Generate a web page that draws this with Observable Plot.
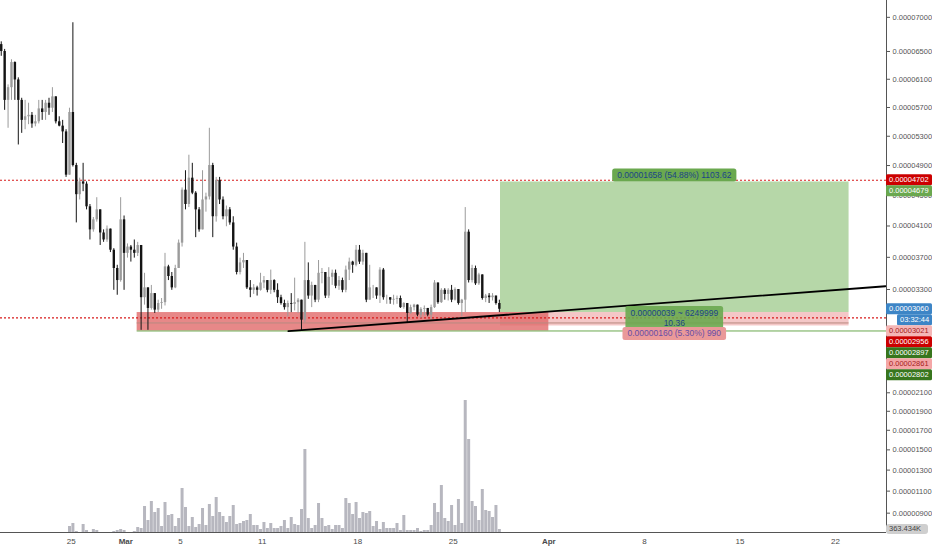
<!DOCTYPE html>
<html>
<head>
<meta charset="utf-8">
<script src="https://cdn.jsdelivr.net/npm/d3@7"></script>
<script src="https://cdn.jsdelivr.net/npm/@observablehq/plot@0.6"></script>
<style>
  html, body { margin: 0; padding: 0; background: #fff; }
  #chart { position: relative; width: 932px; height: 550px; overflow: hidden; font-family: "Liberation Sans", Arial, sans-serif; }
  #chart svg { position: absolute; left: 0; top: 0; background: none !important; }
  #chart svg.volume { pointer-events: none; }
</style>
</head>
<body>
<div id="chart"></div>
<script>
// 6h candles, first one opens Feb 19 18:00 UTC; prices in satoshi (1e-8)
const candleStart = Date.UTC(2018, 1, 19, 18);
const firstOpen = 6600;

const closes = [
  6500, 5800, 5980, 6340, 6090, 5800, 5520, 5570, 5590, 5470,
  5500, 5680, 5630, 5760, 5690, 5850, 5500, 5440, 5360, 4770,
  5630, 4900, 4510, 4680, 4650, 4350, 4050, 4180, 4310, 4010,
  3920, 4060, 3790, 3560, 3410, 4180, 3750, 3830, 3790, 3750,
  3850, 3200, 3320, 3070, 3250, 3050, 3130, 3140, 3580, 3460,
  3320, 3560, 3880, 4570, 4380, 4730, 4530, 4310, 4050, 4440,
  4480, 4900, 4220, 4700, 4440, 4220, 4310, 4140, 3830, 3510,
  3630, 3660, 3320, 3290, 3320, 3290, 3380, 3410, 3290, 3410,
  3290, 3200, 3130, 3080, 3130, 3120, 3140, 3170, 2930, 3410,
  3220, 3350, 3170, 3500, 3510, 3220, 3450, 3500, 3340, 3410,
  3290, 3540, 3640, 3600, 3790, 3640, 3750, 3170, 3320, 3320,
  3220, 3540, 3200, 3200, 3170, 3180, 3190, 3080, 3130, 3010,
  3080, 3110, 2990, 3060, 3070, 2990, 3080, 3380, 3140, 3290,
  3240, 3290, 3170, 3300, 3130, 3170, 4020, 3410, 3560, 3370,
  3480, 3190, 3220, 3200, 3220, 3130, 3060
];
const highs = [
  6640, 6530, 6020, 6380, 6350, 6120, 5830, 5800, 5760, 5630,
  5590, 5800, 5800, 5800, 5830, 5980, 5850, 5570, 5520, 5390,
  5690, 6920, 4930, 4730, 4930, 4680, 4380, 4210, 4470, 4310,
  4050, 4100, 4060, 3810, 3600, 4470, 4230, 3870, 3850, 3920,
  3890, 3850, 3500, 3320, 3350, 3250, 3170, 3190, 3750, 3600,
  3510, 3600, 3920, 4600, 4830, 5040, 4930, 4550, 4340, 4830,
  4530, 5410, 4930, 4740, 4740, 4480, 4360, 4340, 4220, 3880,
  3690, 3750, 3640, 3410, 3360, 3340, 3500, 3460, 3410, 3540,
  3420, 3370, 3230, 3170, 3160, 3250, 3440, 3190, 3110, 3890,
  3630, 3390, 3350, 3660, 3560, 3510, 3570, 3540, 3540, 3460,
  3440, 3590, 3690, 3650, 3850, 3850, 3790, 3750, 3600, 3350,
  3310, 3570, 3560, 3230, 3200, 3230, 3220, 3220, 3140, 3130,
  3110, 3120, 3110, 3080, 3100, 3070, 3110, 3410, 3360, 3310,
  3310, 3310, 3350, 3320, 3300, 3180, 4340, 4050, 3600, 3590,
  3500, 3480, 3240, 3250, 3250, 3220, 3170
];
const lows = [
  6430, 5660, 5410, 5800, 5800, 5180, 5340, 5390, 5460, 5410,
  5430, 5470, 5520, 5520, 5590, 5630, 5470, 5430, 5200, 4740,
  4770, 4880, 4140, 4440, 4550, 4310, 3920, 4020, 4150, 3850,
  3890, 3890, 3760, 3290, 3230, 3390, 3290, 3690, 3640, 3690,
  3710, 2810, 3110, 2810, 3050, 3010, 3020, 3060, 3100, 3410,
  3290, 3310, 3560, 3830, 4310, 4340, 4510, 3950, 4020, 4050,
  4280, 4440, 3950, 4150, 4380, 4180, 4090, 4110, 3790, 3480,
  3480, 3560, 3300, 3200, 3240, 3220, 3280, 3310, 3260, 3240,
  3260, 3130, 3110, 3050, 2970, 3020, 3040, 3010, 2800, 2900,
  3180, 3080, 3140, 3140, 3370, 3190, 3190, 3350, 3310, 3290,
  3260, 3260, 3410, 3500, 3580, 3610, 3600, 3140, 3170, 3190,
  3180, 3130, 3170, 3120, 3120, 3110, 3120, 3070, 3060, 2900,
  3000, 3040, 2970, 2950, 2980, 2970, 2940, 3070, 3120, 3130,
  3170, 3160, 3140, 3160, 3110, 2970, 3020, 3380, 3380, 3350,
  3350, 3170, 3140, 3130, 3160, 3110, 3020
];
// volume, thousands
const volumes = [
  0, 0, 0, 0, 0, 0, 0, 0, 0, 0,
  0, 0, 0, 0, 0, 0, 0, 0, 0, 0,
  720, 1080, 120, 0, 960, 240, 0, 360, 240, 0,
  0, 0, 0, 120, 240, 360, 240, 0, 0, 120,
  600, 480, 3120, 1440, 3720, 2400, 2880, 720, 3600, 2040,
  2160, 720, 1680, 5280, 3000, 720, 1800, 600, 960, 2880,
  840, 3360, 1920, 4200, 2400, 1920, 1200, 1920, 3240, 960,
  1080, 1320, 1440, 2160, 840, 840, 360, 1200, 480, 1080,
  480, 480, 720, 1440, 480, 1800, 960, 840, 2760, 9960,
  1680, 480, 840, 3480, 1680, 720, 840, 360, 840, 840,
  480, 4080, 3480, 2160, 3600, 1680, 2400, 2280, 2520, 720,
  1320, 360, 1200, 480, 480, 480, 1080, 240, 2040, 240,
  240, 240, 480, 120, 240, 240, 840, 3480, 2400, 5640,
  1680, 1320, 3240, 840, 3960, 1080, 15840, 11160, 3720, 3120,
  1440, 5160, 2640, 2520, 1800, 3240, 363.434
];

const priceTicks = [7000, 6500, 6100, 5700, 5300, 4900, 4500, 4100, 3700, 3300, 2100, 1900, 1700, 1500, 1300, 1100, 900];
const dateTicks = ["2018-02-25", "2018-03-01", "2018-03-05", "2018-03-11", "2018-03-18", "2018-03-25", "2018-04-01", "2018-04-08", "2018-04-15", "2018-04-22"];
const dateTickLabels = ["25", "Mar", "5", "11", "18", "25", "Apr", "8", "15", "22"];

// drawings
const resistance = 4702;
const support = 2956;
const zone = {x1: "2018-03-01T20:00Z", x2: "2018-04-01T00:00Z", y1: 2802, y2: 3021};
const position = {x1: "2018-03-28T11:00Z", x2: "2018-04-23T00:00Z", entry: 3021, target: 4679, stop: 2861};
const countdown = "03:32:44";
const trend = [{date: "2018-03-12T22:00Z", price: 2800}, {date: "2018-04-25T16:00Z", price: 3340}];
const levelLines = [
  {price: 2897, x1: "2018-03-01T20:00Z", x2: "2018-04-23T00:00Z", color: "#b88a80"},
  {price: 2802, x1: "2018-03-01T20:00Z", x2: "2018-04-25T17:50Z", color: "#6aa84f"}
];
const axisTags = [
  {price: 4702, bg: "#cc0000", fg: "#fff"},
  {price: 4679, bg: "#6aa84f", fg: "#fff"},
  {price: 3060, bg: "#3d85c6", fg: "#fff"},
  {price: 3060, bg: "#3d85c6", fg: "#fff", text: countdown, short: true},
  {price: 3021, bg: "#f4b6b6", fg: "#a61c1c"},
  {price: 2956, bg: "#cc0000", fg: "#fff"},
  {price: 2897, bg: "#38761d", fg: "#fff"},
  {price: 2861, bg: "#f4a6a6", fg: "#a61c1c"},
  {price: 2802, bg: "#38761d", fg: "#fff"}
];

const H6 = 6 * 3600e3;
const candles = closes.map((c, i) => {
  const o = i ? closes[i - 1] : firstOpen;
  return {
    date: new Date(candleStart + i * H6 + H6 / 2),
    open: o, close: c,
    high: Math.max(highs[i], o, c),
    low: Math.min(lows[i], o, c),
    volume: volumes[i]
  };
});
const candleColor = d => d.close >= d.open ? "#9b9b9b" : "#141414";
const fmtPrice = v => (v / 1e8).toFixed(8);
const xDomain = [new Date(Date.UTC(2018, 1, 19, 19, 42)), new Date(Date.UTC(2018, 3, 25, 17, 50))];
const yDomain = [733, 7250];
const tickDates = dateTicks.map(s => new Date(s + "T00:00Z"));
const tickLabel = d => dateTickLabels[tickDates.findIndex(t => +t === +d)];

const box = (x1, x2, y1, y2) => [{x1: new Date(x1), x2: new Date(x2), y1, y2}];
const layout = {width: 932, height: 550, marginLeft: 0, marginRight: 46, marginTop: 0, marginBottom: 18};

const chart = Plot.plot({
  ...layout,
  style: {fontFamily: '"Liberation Sans", Arial, sans-serif', fontSize: "7.5px", background: "transparent"},
  x: {type: "utc", domain: xDomain},
  y: {type: "pow", exponent: 0.75, domain: yDomain},
  color: {type: "identity"},
  marks: [
    Plot.rect(box(position.x1, position.x2, position.entry, position.target), {x1: "x1", x2: "x2", y1: "y1", y2: "y2", fill: "#b6d7a8"}),
    Plot.rect(box(position.x1, position.x2, position.stop, position.entry), {x1: "x1", x2: "x2", y1: "y1", y2: "y2", fill: "#f4c7c7"}),
    Plot.rect(box(zone.x1, zone.x2, zone.y1, zone.y2), {x1: "x1", x2: "x2", y1: "y1", y2: "y2", fill: "#e06666", fillOpacity: 0.78}),
    Plot.ruleY(levelLines, {y: "price", x1: d => new Date(d.x1), x2: d => new Date(d.x2), stroke: "color", strokeWidth: 1}),
    Plot.ruleY([resistance, support], {stroke: "#d81b1b", strokeWidth: 1.2, strokeDasharray: "2,2"}),
    Plot.ruleX(candles, {x: "date", y1: "low", y2: "high", stroke: candleColor, strokeWidth: 1}),
    Plot.ruleX(candles, {x: "date", y1: "open", y2: "close", stroke: candleColor, strokeWidth: 2.4}),
    Plot.line(trend, {x: d => new Date(d.date), y: "price", stroke: "#000", strokeWidth: 1.8}),
    Plot.ruleX([xDomain[1]], {stroke: "#555", strokeWidth: 1}),
    Plot.ruleY([yDomain[0]], {stroke: "#555", strokeWidth: 1}),
    Plot.axisY({anchor: "right", ticks: priceTicks, tickFormat: fmtPrice, tickSize: 3, tickPadding: 3, color: "#555", fontSize: 7.5, label: null}),
    Plot.axisX({ticks: tickDates, tickFormat: tickLabel, tickSize: 0, tickPadding: 6, color: "#4a4a4a", fontSize: 8, label: null})
  ]
});

const volume = Plot.plot({
  ...layout,
  style: {background: "transparent"},
  x: {type: "utc", domain: xDomain, axis: null},
  y: {domain: [0, 63840], axis: null},
  marks: [
    Plot.ruleX(candles, {x: "date", y: "volume", stroke: "#b7b7bf", strokeWidth: 3})
  ]
});
volume.classList.add("volume");

const container = document.getElementById("chart");
container.appendChild(chart);
container.appendChild(volume);

// month names bold, like the original time axis
d3.select(chart).selectAll("[aria-label='x-axis tick label'] text")
  .filter(function () { return /[A-Za-z]/.test(this.textContent); })
  .attr("font-weight", "bold");

const xs = chart.scale("x"), ys = chart.scale("y");
const font = '"Liberation Sans", Arial, sans-serif';

// boxed labels on the position tool
function label(svg, cx, cy, lines, bg, fg, size, opacity = 1) {
  const g = d3.select(svg).append("g").attr("font-family", font).attr("text-anchor", "middle");
  const rect = g.append("rect");
  const lh = size + 1.5;
  const texts = lines.map((t, i) => g.append("text")
    .attr("x", cx).attr("y", cy + (i - (lines.length - 1) / 2) * lh)
    .attr("text-anchor", "middle").attr("dominant-baseline", "central")
    .attr("font-size", size).attr("fill", fg).text(t));
  const w = d3.max(texts, t => t.node().getComputedTextLength()) + 10;
  const h = lines.length * lh + 3;
  rect.attr("x", cx - w / 2).attr("y", cy - h / 2).attr("width", w).attr("height", h)
    .attr("rx", 2.5).attr("fill", bg).attr("fill-opacity", opacity);
}

const reward = position.target - position.entry;
const risk = position.entry - position.stop;
const midX = xs.apply(new Date((+new Date(position.x1) + +new Date(position.x2)) / 2));
label(chart, midX, ys.apply(position.target) - 6.5,
  [`${fmtPrice(reward)} (${(reward / position.entry * 100).toFixed(2)}%) 1103.62`], "#6aa84f", "#1c4587", 8.5);
label(chart, midX, ys.apply(position.entry) + 5.5,
  ["0.00000039 ~ 6249999", (reward / risk).toFixed(2)], "#6aa84f", "#1c4587", 8.5, 0.9);
label(chart, midX, ys.apply(position.stop) + 8,
  [`${fmtPrice(risk)} (${(risk / position.entry * 100).toFixed(2)}%) 990`], "#ea9999", "#674ea7", 8.5);

// price tags on the right scale, stacked so they do not overlap
const tagG = d3.select(chart).append("g").attr("font-family", font).attr("font-size", 7.5).attr("text-anchor", "start");
let prev = -Infinity;
for (const t of axisTags) {
  const y = Math.max(ys.apply(t.price), prev + 11);
  prev = y;
  const x0 = t.short ? 897 : 886;
  tagG.append("rect").attr("x", x0).attr("y", y - 5.5).attr("width", 932 - x0).attr("height", 11)
    .attr("rx", 1.5).attr("fill", t.bg);
  tagG.append("text").attr("x", x0 + 3).attr("y", y).attr("dominant-baseline", "central")
    .attr("text-anchor", "start").attr("fill", t.fg).text(t.text || fmtPrice(t.price));
}

// current volume tag
const vs = volume.scale("y");
const lastVol = volumes[volumes.length - 1];
const vy = vs.apply(lastVol);
const vg = d3.select(volume).append("g").attr("font-family", font).attr("font-size", 7.5).attr("text-anchor", "start");
vg.append("rect").attr("x", 886).attr("y", vy - 5).attr("width", 42).attr("height", 10).attr("rx", 3).attr("fill", "#cfcfcf");
vg.append("text").attr("x", 889).attr("y", vy).attr("dominant-baseline", "central").attr("text-anchor", "start")
  .attr("fill", "#444").text(`${lastVol.toFixed(3)}K`);
</script>
</body>
</html>
